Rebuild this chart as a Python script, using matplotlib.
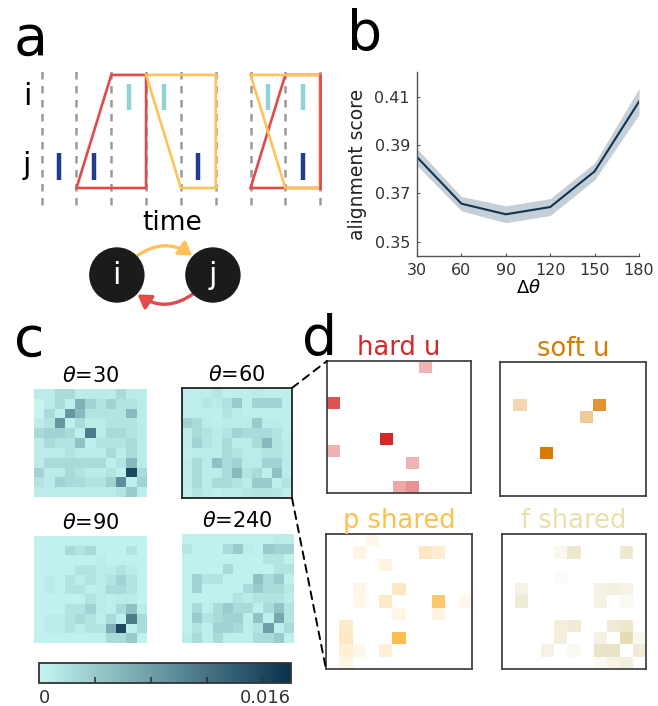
import numpy as np
import matplotlib
matplotlib.use("Agg")
import matplotlib.pyplot as plt
import matplotlib.cm as cm
from matplotlib.colors import LinearSegmentedColormap, Normalize
from matplotlib.patches import Polygon, Circle, FancyArrowPatch, ConnectionPatch

W, H = 658, 706

# ---------------- data ----------------
# panel a: spike raster (time in bins)
bin_edges = np.arange(9)
spikes_i = [2.5, 3.5, 6.5, 7.5]
spikes_j = [0.5, 1.5, 4.5, 7.5]
red_windows = [(1, 2, 3), (6, 7, 8)]      # bottom-left, top-left, right edge
yellow_windows = [(3, 4, 5), (6, 7, 8)]   # top-left, bottom-left, right edge

# panel b
dtheta = [30, 60, 90, 120, 150, 180]
align_mean = [0.385, 0.3657, 0.3613, 0.3643, 0.3791, 0.408]
align_err = [0.0035, 0.003, 0.0035, 0.0035, 0.0035, 0.0055]

# panel c (values x 1e-3)
theta_labels = ["30", "60", "90", "240"]
m_theta30 = [
    [0.8, 0.8, 2.4, 2.4, 0.8, 0.8, 0.8, 0.8, 2.4, 0.8, 0.8],
    [0.0, 0.8, 2.4, 0.5, 6.4, 3.2, 1.6, 3.2, 1.6, 1.6, 0.8],
    [0.0, 2.4, 0.5, 8.8, 5.6, 1.6, 1.6, 1.6, 1.6, 5.6, 0.8],
    [0.8, 1.6, 8.8, 0.5, 2.4, 0.8, 0.8, 1.6, 1.6, 1.6, 0.8],
    [2.4, 3.2, 3.2, 2.4, 0.5, 11.2, 0.8, 2.4, 2.4, 1.6, 0.8],
    [0.8, 2.4, 1.6, 1.6, 4.8, 0.5, 1.6, 1.6, 1.6, 2.4, 0.8],
    [0.8, 0.8, 0.8, 1.6, 0.8, 0.8, 0.8, 2.4, 0.8, 2.4, 0.8],
    [0.8, 2.4, 2.4, 2.4, 2.4, 2.4, 2.4, 0.5, 1.6, 5.6, 0.8],
    [3.2, 0.8, 0.8, 2.4, 1.6, 0.8, 0.8, 1.6, 0.5, 16.0, 2.4],
    [1.6, 0.8, 3.2, 2.4, 2.4, 1.6, 1.6, 3.2, 9.6, 0.5, 3.2],
    [0.8, 0.8, 0.8, 0.8, 0.8, 0.8, 0.8, 0.8, 1.6, 4.0, 0.8],
]
m_theta60 = [
    [0.5, 0.5, 0.5, 1.3, 0.5, 0.5, 0.5, 0.8, 0.5, 0.5, 0.5],
    [0.5, 0.5, 1.3, 0.8, 1.9, 4.0, 0.5, 3.2, 3.2, 3.2, 0.5],
    [0.5, 0.5, 0.5, 0.5, 1.6, 0.8, 0.5, 0.5, 0.5, 0.5, 0.5],
    [3.2, 2.4, 0.8, 0.5, 0.8, 0.8, 0.8, 4.0, 0.8, 0.8, 0.5],
    [0.8, 2.4, 1.6, 0.8, 1.6, 3.2, 2.4, 2.4, 2.4, 1.6, 0.5],
    [0.8, 3.2, 1.6, 0.8, 2.4, 0.8, 0.8, 2.4, 5.6, 1.6, 0.8],
    [0.5, 0.8, 0.8, 0.8, 2.4, 1.6, 0.8, 0.8, 1.6, 1.6, 0.8],
    [0.8, 2.4, 0.8, 4.8, 2.4, 3.2, 0.8, 0.8, 3.2, 3.2, 0.8],
    [0.8, 2.4, 0.8, 0.8, 2.4, 5.6, 1.6, 2.4, 0.5, 4.8, 0.8],
    [0.8, 2.4, 0.8, 2.4, 2.4, 1.6, 0.8, 4.0, 4.0, 0.5, 1.6],
    [0.5, 1.6, 0.8, 0.5, 0.8, 0.8, 1.3, 1.6, 1.6, 1.3, 0.5],
]
m_theta90 = [
    [0.3, 0.3, 0.3, 0.3, 0.3, 0.3, 0.3, 0.3, 0.3, 0.3, 0.3],
    [0.3, 0.3, 0.3, 2.4, 1.6, 2.4, 0.3, 0.3, 0.3, 1.6, 0.3],
    [0.3, 0.3, 0.3, 0.3, 0.3, 0.3, 0.8, 0.3, 0.3, 0.3, 0.3],
    [0.3, 0.3, 0.3, 0.3, 1.6, 1.6, 0.8, 0.8, 1.6, 0.8, 0.3],
    [0.3, 0.8, 0.3, 1.6, 0.5, 1.6, 0.8, 1.6, 3.2, 1.6, 0.3],
    [0.3, 0.8, 0.3, 1.6, 1.6, 0.5, 0.8, 2.4, 2.4, 1.6, 0.3],
    [0.3, 0.3, 0.3, 0.3, 0.3, 1.6, 0.8, 0.5, 0.8, 0.8, 0.3],
    [0.3, 0.3, 0.3, 1.6, 1.6, 3.2, 0.8, 0.5, 2.4, 4.8, 0.8],
    [0.3, 0.8, 0.8, 1.6, 2.4, 1.6, 0.5, 2.4, 0.5, 11.2, 2.4],
    [0.3, 0.8, 0.8, 1.6, 0.5, 1.6, 1.6, 6.4, 16.0, 0.5, 2.4],
    [0.3, 0.3, 0.3, 0.3, 0.3, 0.3, 0.3, 2.4, 2.4, 4.0, 0.3],
]
m_theta240 = [
    [0.3, 0.3, 0.3, 0.3, 0.3, 0.3, 0.3, 0.3, 0.3, 0.8, 0.8],
    [1.3, 0.3, 0.3, 0.3, 2.4, 4.0, 0.8, 0.3, 4.0, 3.2, 3.2],
    [0.3, 0.3, 0.3, 0.3, 0.3, 0.3, 0.3, 0.3, 1.6, 1.6, 0.3],
    [0.3, 0.3, 0.3, 0.3, 2.4, 0.3, 0.3, 0.3, 0.3, 1.6, 1.6],
    [0.3, 3.2, 1.6, 1.6, 0.3, 0.3, 0.3, 4.8, 2.4, 4.0, 0.5],
    [0.3, 3.2, 0.3, 0.3, 0.3, 0.3, 2.4, 4.0, 2.4, 2.4, 1.3],
    [0.3, 0.3, 0.3, 0.3, 0.3, 1.6, 0.8, 1.6, 1.6, 1.6, 0.8],
    [0.3, 2.4, 0.5, 2.4, 4.0, 2.4, 2.4, 0.5, 2.4, 4.8, 1.6],
    [0.3, 4.0, 1.6, 2.4, 3.2, 3.2, 0.5, 4.8, 0.5, 7.2, 1.6],
    [0.3, 1.6, 0.5, 3.2, 3.2, 2.4, 0.5, 1.6, 8.0, 0.5, 2.4],
    [0.8, 2.4, 0.5, 2.4, 0.5, 0.5, 0.5, 2.4, 2.4, 4.0, 0.5],
]

# panel d: (row, col, strength) of non-empty cells
hard_u = [(0, 7, 0.35), (3, 0, 0.8), (6, 4, 1.0), (7, 0, 0.35), (8, 6, 0.35),
          (10, 5, 0.4), (10, 6, 0.5)]
soft_u = [(3, 1, 0.3), (3, 7, 0.8), (4, 6, 0.4), (7, 3, 1.0)]
p_shared = [(0, 3, 0.1), (1, 2, 0.12), (1, 7, 0.3), (1, 8, 0.22), (2, 4, 0.15),
            (4, 2, 0.12), (4, 5, 0.3), (5, 2, 0.1), (5, 4, 0.25), (5, 8, 0.7),
            (5, 10, 0.08), (6, 5, 0.12), (6, 8, 0.15), (7, 1, 0.25), (8, 1, 0.3),
            (8, 5, 0.85), (9, 1, 0.2), (9, 2, 0.1), (9, 4, 0.2), (10, 1, 0.12)]
f_shared = [(1, 4, 0.1), (1, 5, 0.3), (1, 9, 0.3), (3, 4, 0.05), (4, 1, 0.15),
            (4, 7, 0.15), (4, 8, 0.2), (4, 9, 0.15), (5, 1, 0.25), (5, 7, 0.15),
            (5, 9, 0.08), (7, 4, 0.2), (7, 5, 0.25), (7, 8, 0.25), (7, 9, 0.3),
            (8, 4, 0.2), (8, 7, 0.15), (8, 9, 0.45), (8, 10, 0.1), (9, 3, 0.15),
            (9, 5, 0.08), (9, 7, 0.35), (9, 8, 0.35), (9, 10, 0.25), (10, 7, 0.08),
            (10, 8, 0.15), (10, 9, 0.2)]

RED = '#e04a4c'
YEL = '#fdc35a'


def box(x0, y0, x1, y1):
    # pixel box (top-left origin) -> figure fraction rect
    return [x0 / W, 1 - y1 / H, (x1 - x0) / W, (y1 - y0) / H]


fig = plt.figure(figsize=(W / 100, H / 100), dpi=100)

# ---------------- panel a ----------------
ax_a = fig.add_axes(box(0, 55, 330, 315))
ax_a.set_xlim(-1.198, 8.284)
ax_a.set_ylim(-3.649, 3.822)
ax_a.axis('off')
top = 3.25
for e in bin_edges:
    ax_a.plot([e, e], [-0.49, 3.48], color='#9a9a9a', lw=1.8, dashes=(3, 2.6), zorder=1)
for bl, tl, r in red_windows:
    ax_a.add_patch(Polygon([(bl, 0), (tl, top), (r, top), (r, 0)], closed=True,
                           fill=False, ec=RED, lw=1.9, joinstyle='miter', zorder=3))
for tl, bl, r in yellow_windows:
    ax_a.add_patch(Polygon([(tl, top), (r, top), (r, 0), (bl, 0)], closed=True,
                           fill=False, ec=YEL, lw=1.9, joinstyle='miter', zorder=4))
r_last = red_windows[-1][2]
ax_a.plot([r_last, r_last], [0, top], color=RED, lw=1.9, zorder=5)
ax_a.vlines(spikes_i, 2.24, 2.99, color='#8fd4d4', lw=3.2, zorder=6)
ax_a.vlines(spikes_j, 0.23, 1.0, color='#1f3d8c', lw=3.2, zorder=6)
ax_a.text(-0.42, 2.63, 'i', fontsize=22, ha='center', va='center')
ax_a.text(-0.42, 0.66, 'j', fontsize=22, ha='center', va='center')
ax_a.text(3.75, -1.0, 'time', fontsize=19, ha='center', va='center')

node_x = {'i': 2.16, 'j': 4.92}
node_y = -2.5
node_r = 0.776
for name, x in node_x.items():
    ax_a.add_patch(Circle((x, node_y), node_r, color='#1b1b1b', zorder=2))
    ax_a.text(x, node_y, name, color='white', fontsize=22, ha='center', va='center', zorder=3)
r_pt = node_r * 34.8 * 0.72
for (src, dst, col) in [('i', 'j', YEL), ('j', 'i', RED)]:
    ax_a.add_patch(FancyArrowPatch((node_x[src], node_y), (node_x[dst], node_y),
                                   connectionstyle='arc3,rad=-0.6',
                                   arrowstyle='-|>,head_length=0.55,head_width=0.35',
                                   mutation_scale=14, color=col, lw=2.4,
                                   shrinkA=r_pt, shrinkB=r_pt + 1, zorder=1))

# ---------------- panel b ----------------
ax_b = fig.add_axes(box(417, 72, 639, 256))
ax_b.fill_between(dtheta, np.array(align_mean) - align_err, np.array(align_mean) + align_err,
                  color='#c5cfd8', lw=0)
ax_b.plot(dtheta, align_mean, color='#0f3550', lw=1.5)
ax_b.set_xlim(30, 180)
ax_b.set_ylim(0.344, 0.4203)
ax_b.set_xticks(dtheta)
ax_b.set_yticks([0.35, 0.37, 0.39, 0.41])
ax_b.set_yticklabels(['0.35', '0.37', '0.39', '0.41'])
for s in ['top', 'right']:
    ax_b.spines[s].set_visible(False)
for s in ['left', 'bottom']:
    ax_b.spines[s].set_color('#555555')
    ax_b.spines[s].set_linewidth(1.0)
ax_b.tick_params(direction='in', length=2, labelsize=11.5, labelcolor='#333333',
                 color='#555555', pad=5)
ax_b.set_ylabel('alignment score', fontsize=13.5, color='#222222', labelpad=5)
ax_b.set_xlabel(r'$\Delta\theta$', fontsize=13, labelpad=1)

# ---------------- panel c ----------------
cmap_c = LinearSegmentedColormap.from_list('tealc', ['#c4f5f1', '#08324d'])
norm_c = Normalize(0, 18)
c_boxes = [box(34, 389, 147, 497), box(182, 388, 292, 498),
           box(34, 536, 147, 643), box(182, 534, 293, 643)]
c_mats = [m_theta30, m_theta60, m_theta90, m_theta240]
c_axes = []
for lab, rect, mat in zip(theta_labels, c_boxes, c_mats):
    ax = fig.add_axes(rect)
    ax.imshow(np.array(mat), cmap=cmap_c, norm=norm_c, aspect='auto', interpolation='nearest')
    ax.set_xticks([])
    ax.set_yticks([])
    ax.set_title(r'$\theta$=' + lab, fontsize=15, pad=5)
    if lab == '60':
        for s in ax.spines.values():
            s.set_color('#222222')
            s.set_linewidth(1.3)
    else:
        for s in ax.spines.values():
            s.set_visible(False)
    c_axes.append(ax)

cax = fig.add_axes(box(39, 663, 291, 683))
cb = fig.colorbar(cm.ScalarMappable(norm=norm_c, cmap=cmap_c), cax=cax,
                  orientation='horizontal', ticks=[4, 8, 12, 16])
cb.outline.set_edgecolor('#333333')
cb.outline.set_linewidth(1.3)
cax.tick_params(direction='in', length=4, width=1.2, color='#333333', labelbottom=False)
cax.text(0, -0.3, '0', transform=cax.transAxes, ha='left', va='top', fontsize=13, color='#333333')
cax.text(1, -0.3, '0.016', transform=cax.transAxes, ha='right', va='top', fontsize=13, color='#333333')

# ---------------- panel d ----------------
d_panels = [('hard u', hard_u, '#d62728', '#d62728', box(327, 361, 471, 493)),
            ('soft u', soft_u, '#d97b00', '#d97b00', box(500, 362, 646, 496)),
            ('p shared', p_shared, '#fbb22f', '#fbc04f', box(326, 534, 472, 669)),
            ('f shared', f_shared, '#c4b35c', '#ebdfae', box(502, 534, 646, 669))]
d_axes = {}
for title, cells, full, tcol, rect in d_panels:
    grid = np.zeros((11, 11))
    for r, c, v in cells:
        grid[r, c] = v
    ax = fig.add_axes(rect)
    cmap_d = LinearSegmentedColormap.from_list(title, ['#ffffff', full])
    ax.imshow(grid, cmap=cmap_d, vmin=0, vmax=1, aspect='auto', interpolation='nearest')
    ax.set_xticks([])
    ax.set_yticks([])
    for s in ax.spines.values():
        s.set_color('#444444')
        s.set_linewidth(1.3)
    ax.set_title(title, fontsize=18.5, color=tcol, pad=4)
    d_axes[title] = ax

for xyA, xyB, target in [((1, 1), (0, 1), 'hard u'), ((1, 0), (0, 0), 'p shared')]:
    con = ConnectionPatch(xyA=xyA, coordsA=c_axes[1].transAxes,
                          xyB=xyB, coordsB=d_axes[target].transAxes,
                          color='black', lw=1.4, linestyle=(0, (4, 3)))
    fig.add_artist(con)

# panel letters
for letter, px, py in [('a', 14, 55), ('b', 347, 50), ('c', 14, 356), ('d', 302, 355)]:
    fig.text(px / W, 1 - py / H, letter, fontsize=40, va='baseline', ha='left')

fig.savefig('out.png', dpi=100)
